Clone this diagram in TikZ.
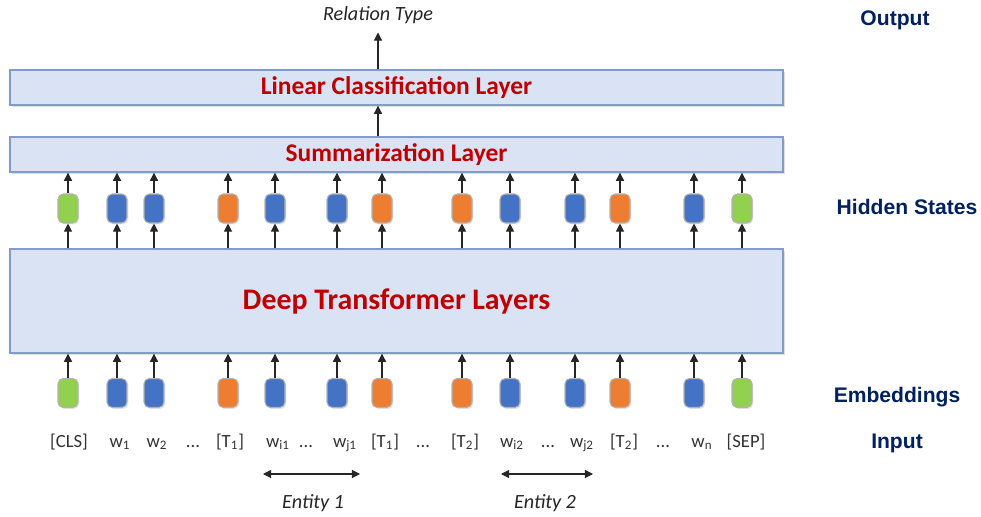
\documentclass[tikz,border=0pt]{standalone}
\usepackage{fontspec}
\setmainfont{Carlito}
\newfontfamily\sidefont{Liberation Sans}
\usepackage{tikz}
\usetikzlibrary{shadows}
\usetikzlibrary{positioning}
\usetikzlibrary{arrows.meta,calc}
\definecolor{layerfill}{HTML}{DAE3F3}
\definecolor{layerdraw}{HTML}{7F9CCB}
\definecolor{layertext}{HTML}{C00000}
\definecolor{sidetext}{HTML}{002060}
\definecolor{tokblue}{HTML}{4472C4}
\definecolor{tokorange}{HTML}{ED7D31}
\definecolor{tokgreen}{HTML}{92D050}
\tikzstyle{layer}=[rectangle,fill=layerfill,draw=layerdraw,thick,minimum width=15.46cm,text=layertext,drop shadow={shadow xshift=1.2pt,shadow yshift=-1.2pt,opacity=0.25}]
\tikzstyle{token}=[rectangle,rounded corners=3pt,draw=black!30,line width=0.6pt,minimum width=0.4cm,minimum height=0.58cm,inner sep=0pt,drop shadow={shadow xshift=0.8pt,shadow yshift=-0.8pt,opacity=0.2}]
\tikzstyle{uparrow} = [draw,line width=0.6pt,black!85,-{Triangle[width=4.6pt,length=4.6pt]}]
\tikzstyle{bothedge} = [draw,line width=0.6pt,black!85,{Triangle[width=4.6pt,length=4.6pt]}-{Triangle[width=4.6pt,length=4.6pt]}]
\tikzstyle{inputlabel} = [anchor=base,inner sep=1pt,font=\fontsize{10.6}{12}\selectfont,text=black!80]
\tikzstyle{italiclabel} = [font=\fontsize{11.5}{13}\selectfont\itshape,text=black!85]
\tikzstyle{sidelabel} = [font=\sidefont\fontsize{12}{14}\selectfont\bfseries,text=sidetext]

\begin{document}
\begin{tikzpicture}[x=0.02cm, y=-0.02cm]
    \useasboundingbox (0,0) rectangle (981,517);
    % First we draw the layers
    \node[layer, minimum height=0.7cm, font=\fontsize{14.5}{16}\selectfont\bfseries] (linear) at (396.5,87.5) {Linear Classification Layer};
    \node[layer, minimum height=0.7cm, font=\fontsize{14.5}{16}\selectfont\bfseries] (summ) at (396.5,154.5) {Summarization Layer};
    \node[layer, minimum height=2.08cm, font=\fontsize{17}{19}\selectfont\bfseries] (deep) at (396.5,301) {Deep Transformer Layers};
    \node[italiclabel] (reltype) at (378,15) {Relation Type};

    % Then the hidden states and the embeddings
    \foreach \x/\name/\col in {68/1/tokgreen, 117/2/tokblue, 154/3/tokblue, 228/4/tokorange, 275/5/tokblue, 337/6/tokblue, 382/7/tokorange, 462/8/tokorange, 510/9/tokblue, 575/10/tokblue, 620/11/tokorange, 694/12/tokblue, 742/13/tokgreen}{
        \node[token, fill=\col] (h\name) at (\x,208.5) {};
        \node[token, fill=\col] (e\name) at (\x,393) {};
    }

    % Connect tokens with layers
    \foreach \name in {1,...,13}{
        \path[uparrow] (e\name.north) -- (e\name |- deep.south);
        \path[uparrow] (h\name |- deep.north) -- (h\name.south);
        \path[uparrow] (h\name.north) -- (h\name |- summ.south);
    }
    \path[uparrow] (summ.north -| reltype) -- (linear.south -| reltype);
    \path[uparrow] (linear.north -| reltype) -- ([yshift=-1.5pt]reltype.south);

    % The input tokens
    \foreach \x/\name/\label in {69/cls/{[CLS]}, 120/wa/{w\textsubscript{1}}, 157/wb/{w\textsubscript{2}}, 193/da/{...}, 230/ta/{[T\textsubscript{1}]}, 278/wia/{w\textsubscript{i1}}, 306/db/{...}, 345/wja/{w\textsubscript{j1}}, 385/tb/{[T\textsubscript{1}]}, 423/dc/{...}, 465/tc/{[T\textsubscript{2}]}, 512/wib/{w\textsubscript{i2}}, 548/dd/{...}, 582/wjb/{w\textsubscript{j2}}, 624/td/{[T\textsubscript{2}]}, 663/de/{...}, 702/wn/{w\textsubscript{n}}, 746/sep/{[SEP]}}
        \node[inputlabel] (\name) at (\x,447) {\label};

    % Entity spans
    \coordinate (ea) at (263,474);
    \coordinate (eb) at (360,474);
    \coordinate (ec) at (501,474);
    \coordinate (ed) at (593,474);
    \path[bothedge] (ea) -- (eb);
    \path[bothedge] (ec) -- (ed);
    \node[italiclabel] (ent1) at (313,503) {Entity 1};
    \node[italiclabel] (ent2) at (545,503) {Entity 2};

    % Labels on the right
    \node[sidelabel] (output) at (895,20) {Output};
    \node[sidelabel] (hidden) at (907,207) {Hidden States};
    \node[sidelabel] (embed) at (897,397) {Embeddings};
    \node[sidelabel] (input) at (897,443) {Input};
\end{tikzpicture}
\end{document}
